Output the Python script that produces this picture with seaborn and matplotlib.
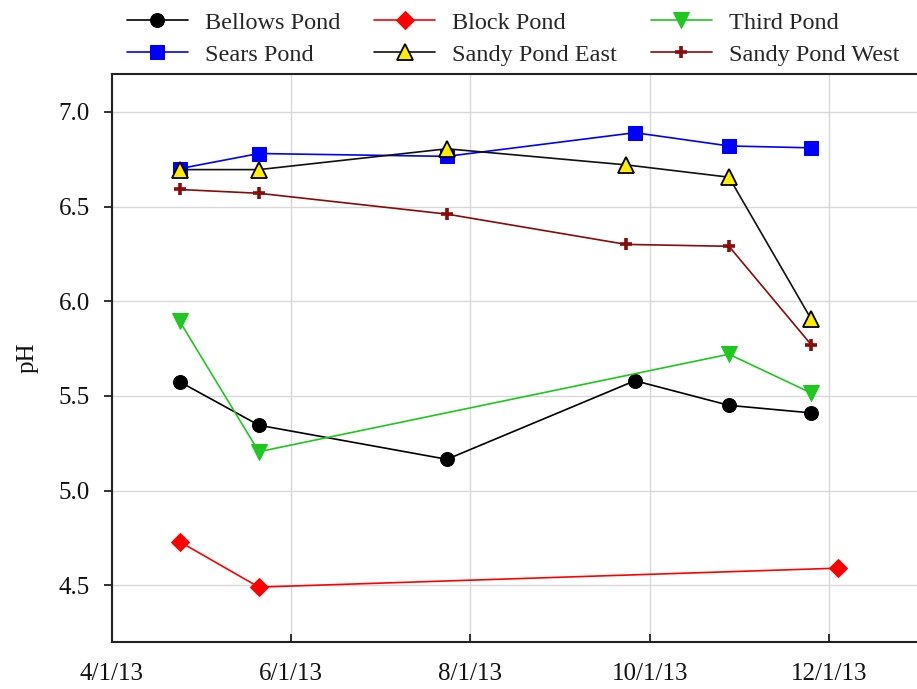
import matplotlib
matplotlib.use("Agg")
import matplotlib.pyplot as plt
import numpy as np
import pandas as pd
import seaborn as sns

# Sampling dates and pH readings per pond
bellows_dates = ["2013-04-24", "2013-05-21", "2013-07-24", "2013-09-26", "2013-10-28", "2013-11-25"]
bellows_ph = [5.575, 5.345, 5.165, 5.58, 5.45, 5.41]

sears_dates = ["2013-04-24", "2013-05-21", "2013-07-24", "2013-09-26", "2013-10-28", "2013-11-25"]
sears_ph = [6.70, 6.78, 6.765, 6.89, 6.82, 6.81]

block_dates = ["2013-04-24", "2013-05-21", "2013-12-04"]
block_ph = [4.73, 4.49, 4.59]

sandy_east_dates = ["2013-04-24", "2013-05-21", "2013-07-24", "2013-09-23", "2013-10-28", "2013-11-25"]
sandy_east_ph = [6.695, 6.695, 6.805, 6.72, 6.655, 5.905]

third_dates = ["2013-04-24", "2013-05-21", "2013-10-28", "2013-11-25"]
third_ph = [5.895, 5.205, 5.72, 5.515]

sandy_west_dates = ["2013-04-24", "2013-05-21", "2013-07-24", "2013-09-23", "2013-10-28", "2013-11-25"]
sandy_west_ph = [6.59, 6.57, 6.46, 6.30, 6.29, 5.77]

tick_dates = ["2013-04-01", "2013-06-01", "2013-08-01", "2013-10-01", "2013-12-01"]
tick_labels = ["4/1/13", "6/1/13", "8/1/13", "10/1/13", "12/1/13"]
y_ticks = [4.5, 5.0, 5.5, 6.0, 6.5, 7.0]

sns.set_theme(style="white")
plt.rcParams["font.family"] = ["Liberation Serif", "DejaVu Serif"]

fig = plt.figure(figsize=(9.17, 6.89), dpi=100)
ax = fig.add_axes([0.1221, 0.0682, 0.8779, 0.8244])

series = [
    ("Bellows Pond", bellows_dates, bellows_ph,
     dict(color="black", marker="o", markersize=10, markerfacecolor="black", markeredgecolor="black")),
    ("Sears Pond", sears_dates, sears_ph,
     dict(color="#0000ff", marker="s", markersize=10, markerfacecolor="#0000ff", markeredgecolor="#0000ff")),
    ("Block Pond", block_dates, block_ph,
     dict(color="#ff0000", marker="D", markersize=9, markerfacecolor="#ff0000", markeredgecolor="#ff0000")),
    ("Sandy Pond East", sandy_east_dates, sandy_east_ph,
     dict(color="#111111", marker="^", markersize=11, markerfacecolor="#ffee00", markeredgecolor="black",
          markeredgewidth=1.3)),
    ("Third Pond", third_dates, third_ph,
     dict(color="#1ec81e", marker="v", markersize=11, markerfacecolor="#1ec81e", markeredgecolor="#1ec81e")),
    ("Sandy Pond West", sandy_west_dates, sandy_west_ph,
     dict(color="#8b0a0a", marker="+", markersize=8, markeredgewidth=2.6, markerfacecolor="#8b0a0a",
          markeredgecolor="#8b0a0a")),
]

for name, dates, vals, style in series:
    df = pd.DataFrame({"date": pd.to_datetime(dates), "pH": vals})
    sns.lineplot(data=df, x="date", y="pH", ax=ax, label=name, linewidth=1.2, **style)

ax.set_xlim(pd.Timestamp("2013-04-01"), pd.Timestamp("2013-12-31"))
ax.set_ylim(4.2, 7.2)

ax.set_xticks(pd.to_datetime(tick_dates))
ax.set_xticklabels(tick_labels)
ax.set_yticks(y_ticks)
ax.set_yticklabels([f"{v:.1f}" for v in y_ticks])

ax.grid(True, color="#d8d8d8", linewidth=1.0)
ax.set_axisbelow(True)

for side in ["left", "bottom", "top"]:
    ax.spines[side].set_visible(True)
    ax.spines[side].set_color("#222222")
    ax.spines[side].set_linewidth(1.5)
ax.spines["right"].set_visible(False)

ax.tick_params(axis="x", direction="in", length=6, width=1.3, colors="#222222",
               labelsize=18, pad=15, bottom=True, labelcolor="#111111")
ax.tick_params(axis="y", direction="out", length=6, width=1.3, colors="#222222",
               labelsize=18, pad=10, left=True, labelcolor="#111111")

ax.set_xlabel("")
ax.set_ylabel("pH", fontsize=18, color="#111111", labelpad=14)

handles, labels = ax.get_legend_handles_labels()
ax.legend_.remove()
fig.legend(handles, labels, loc="upper left", bbox_to_anchor=(0.128, 0.997), ncol=3, frameon=False,
           fontsize=17.5, handlelength=2.5, columnspacing=1.4, handletextpad=0.7,
           borderaxespad=0.0, labelspacing=0.4)

fig.savefig("out.png", dpi=100)
